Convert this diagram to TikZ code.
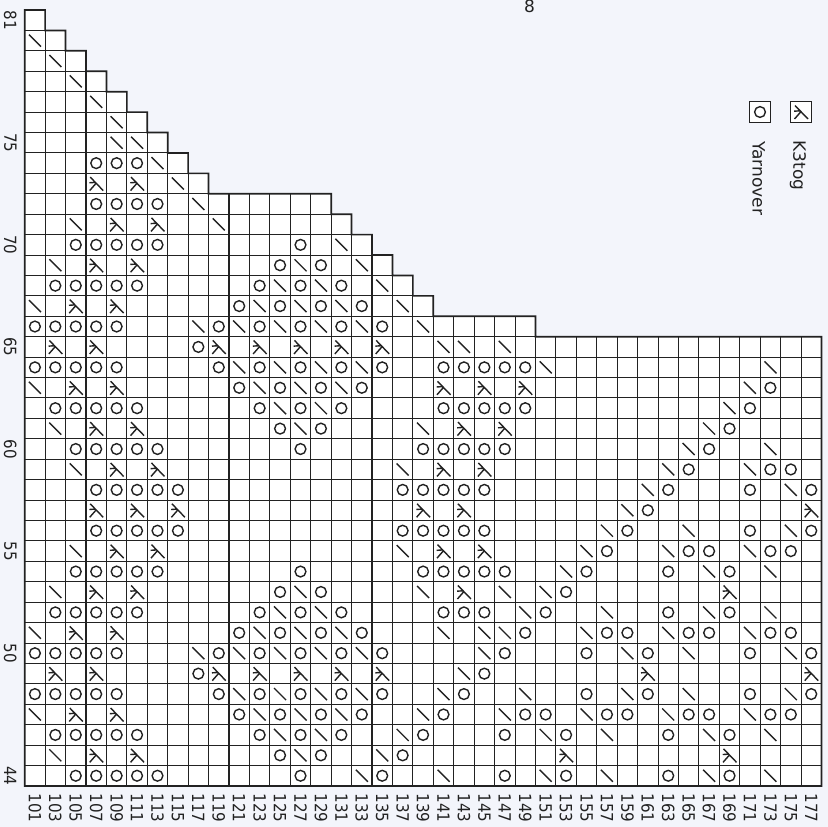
\documentclass[tikz,border=0pt]{standalone}
\usepackage{fontspec}
\setmainfont{DejaVu Sans}
\newfontfamily\numfont[FakeStretch=0.9]{DejaVu Sans}
\definecolor{pagebg}{HTML}{F3F5FB}
\definecolor{ink}{HTML}{222222}
\newcommand{\CW}{20.43}
\newcommand{\CH}{20.42}
\newcommand{\RowLens}{0/1,1/2,2/3,3/4,4/5,5/6,6/7,7/8,8/9,9/15,10/16,11/17,12/18,13/19,14/20,15/25,16/39,17/39,18/39,19/39,20/39,21/39,22/39,23/39,24/39,25/39,26/39,27/39,28/39,29/39,30/39,31/39,32/39,33/39,34/39,35/39,36/39,37/39}
\tikzset{
  gridline/.style={draw=ink,line width=1.03pt},
  outline/.style={draw=ink,line width=1.7pt,line join=miter},
  glyph/.style={draw=ink,line width=1.4pt},
  rowlabel/.style={rotate=-90,font=\numfont\fontsize{16.8}{17}\selectfont,text=ink,inner sep=0pt},
  legendlabel/.style={rotate=-90,font=\fontsize{17}{18}\selectfont,text=ink,inner sep=0pt,anchor=base west},
}
% symbols, drawn about the origin of a shifted scope
\newcommand{\SymO}{\draw[glyph] (0,0) circle[radius=5.4pt];}
\newcommand{\SymS}{\draw[glyph] (-6,-6) -- (6,6);}
\newcommand{\SymK}{\draw[glyph] (-6,-6.5) -- (7,7) (-0.8,-1.2) -- (-6.8,-0.8) (-0.2,-0.2) -- (-6.5,7);}
\newcommand{\PutSym}[3]{\begin{scope}[shift={({24.7+\CW*(#2+0.5)},{10+\CH*(#1+0.5)})}]#3\end{scope}}
% one chart row: row index, circles, slashes, k3togs
\newcommand{\ChartRow}[4]{%
  \foreach \c in {#2}{\PutSym{#1}{\c}{\SymO}}%
  \foreach \c in {#3}{\PutSym{#1}{\c}{\SymS}}%
  \foreach \c in {#4}{\PutSym{#1}{\c}{\SymK}}%
}
\begin{document}
\begin{tikzpicture}[x=1pt,y=-1pt]
\useasboundingbox (0,0) rectangle (828,827);
\fill[pagebg] (0,0) rectangle (828,827);
% white cells first, so that no fill covers a line
\foreach \r/\n in \RowLens{
  \fill[white] (24.7,{10+\CH*\r}) rectangle ({24.7+\CW*\n},{10+\CH*(\r+1)+0.2});
}
% then the grid lines
\foreach \r/\n in \RowLens{
  \pgfmathsetmacro{\xr}{24.7+\CW*\n}
  \pgfmathsetmacro{\yt}{10+\CH*\r}
  \pgfmathsetmacro{\yb}{10+\CH*(\r+1)}
  \draw[gridline] (24.7,\yb) -- (\xr,\yb);
  \foreach \k in {1,...,\n}{
    \pgfmathsetmacro{\xk}{24.7+\CW*\k}
    \draw[gridline] (\xk,\yt) -- (\xk,\yb);
  }
}
% outline staircase
\draw[outline] (24.7,786) -- (24.7,10)
  \foreach \r/\n in {0/1,1/2,2/3,3/4,4/5,5/6,6/7,7/8,8/9,9/15,10/16,11/17,12/18,13/19,14/20,15/25,16/39}{
    -- ({24.7+\CW*\n},{10+\CH*\r}) -- ({24.7+\CW*\n},{10+\CH*(\r+1)})
  } -- (821.5,786) -- cycle;
% symbols
\ChartRow{1}{}{0}{}
\ChartRow{2}{}{1}{}
\ChartRow{3}{}{2}{}
\ChartRow{4}{}{3}{}
\ChartRow{5}{}{4}{}
\ChartRow{6}{}{4,5}{}
\ChartRow{7}{3,4,5}{6}{}
\ChartRow{8}{}{7}{3,5}
\ChartRow{9}{3,4,5,6}{8}{}
\ChartRow{10}{}{2,9}{4,6}
\ChartRow{11}{2,3,4,5,6,13}{15}{}
\ChartRow{12}{12,14}{1,13,16}{3,5}
\ChartRow{13}{1,2,3,4,5,11,13,15}{12,14,17}{}
\ChartRow{14}{10,12,14,16}{0,11,13,15,18}{2,4}
\ChartRow{15}{0,1,2,3,4,9,11,13,15,17}{8,10,12,14,16,19}{}
\ChartRow{16}{8}{20,21,23}{1,3,9,11,13,15,17}
\ChartRow{17}{0,1,2,3,4,9,11,13,15,17,20,21,22,23,24}{10,12,14,16,25,36}{}
\ChartRow{18}{10,12,14,16,36}{0,11,13,15,35}{2,4,20,22,24}
\ChartRow{19}{1,2,3,4,5,11,13,15,20,21,22,23,24,35}{12,14,34}{}
\ChartRow{20}{12,14,34}{1,13,19,33}{3,5,21,23}
\ChartRow{21}{2,3,4,5,6,13,19,20,21,22,23,33}{32,36}{}
\ChartRow{22}{32,36,37}{2,18,31,35}{4,6,20,22}
\ChartRow{23}{3,4,5,6,7,18,19,20,21,22,31,35,38}{30,37}{}
\ChartRow{24}{30}{29}{3,5,7,19,21,38}
\ChartRow{25}{3,4,5,6,7,18,19,20,21,22,29,35,38}{28,32,37}{}
\ChartRow{26}{28,32,33,36,37}{2,18,27,31,35}{4,6,20,22}
\ChartRow{27}{2,3,4,5,6,13,19,20,21,22,23,27,31,34}{26,33,36}{}
\ChartRow{28}{12,14,26}{1,13,19,23,25}{3,5,21,34}
\ChartRow{29}{1,2,3,4,5,11,13,15,20,21,22,25,31,34}{12,14,24,28,33,36}{}
\ChartRow{30}{10,12,14,16,24,28,29,32,33,36,37}{0,11,13,15,20,22,23,27,31,35}{2,4}
\ChartRow{31}{0,1,2,3,4,9,11,13,15,17,23,27,30,35,38}{8,10,12,14,16,22,29,32,37}{}
\ChartRow{32}{8,22}{21}{1,3,9,11,13,15,17,30,38}
\ChartRow{33}{0,1,2,3,4,9,11,13,15,17,21,27,30,35,38}{10,12,14,16,20,24,29,32,37}{}
\ChartRow{34}{10,12,14,16,20,24,25,28,29,32,33,36,37}{0,11,13,15,19,23,27,31,35}{2,4}
\ChartRow{35}{1,2,3,4,5,11,13,15,19,23,26,31,34}{12,14,18,25,28,33,36}{}
\ChartRow{36}{12,14,18}{1,13,17}{3,5,26,34}
\ChartRow{37}{2,3,4,5,6,13,17,23,26,31,34}{16,20,25,28,33,36}{}
% row numbers
\foreach \n/\r in {81/0,75/6,70/11,65/16,60/21,55/26,50/31,44/37}{
  \node[rowlabel] (row\n) at (10.3,{10+\CH*(\r+0.5)}) {\n};
}
% column numbers
\foreach \k [evaluate=\k as \num using int(101+2*\k)] in {0,...,38}{
  \node[rowlabel,anchor=west] (col\k) at ({24.7+\CW*(\k+0.5)},793.2) {\num};
}
% stray figure at the top
\node[font=\fontsize{17}{17}\selectfont,text=ink,inner sep=0pt] (topeight) at (529.5,6.3) {8};
% legend
\draw[draw=ink,fill=white,line width=1pt] (790.3,101.3) rectangle (811.7,122.7);
\begin{scope}[shift={(801,112)}]\SymK\end{scope}
\draw[draw=ink,fill=white,line width=1pt] (749.3,101.3) rectangle (770.7,122.7);
\begin{scope}[shift={(760,112)}]\SymO\end{scope}
\node[legendlabel] (lk) at (793.3,140.5) {K3tog};
\node[legendlabel] (ly) at (752.7,141) {Yarnover};
\end{tikzpicture}
\end{document}
